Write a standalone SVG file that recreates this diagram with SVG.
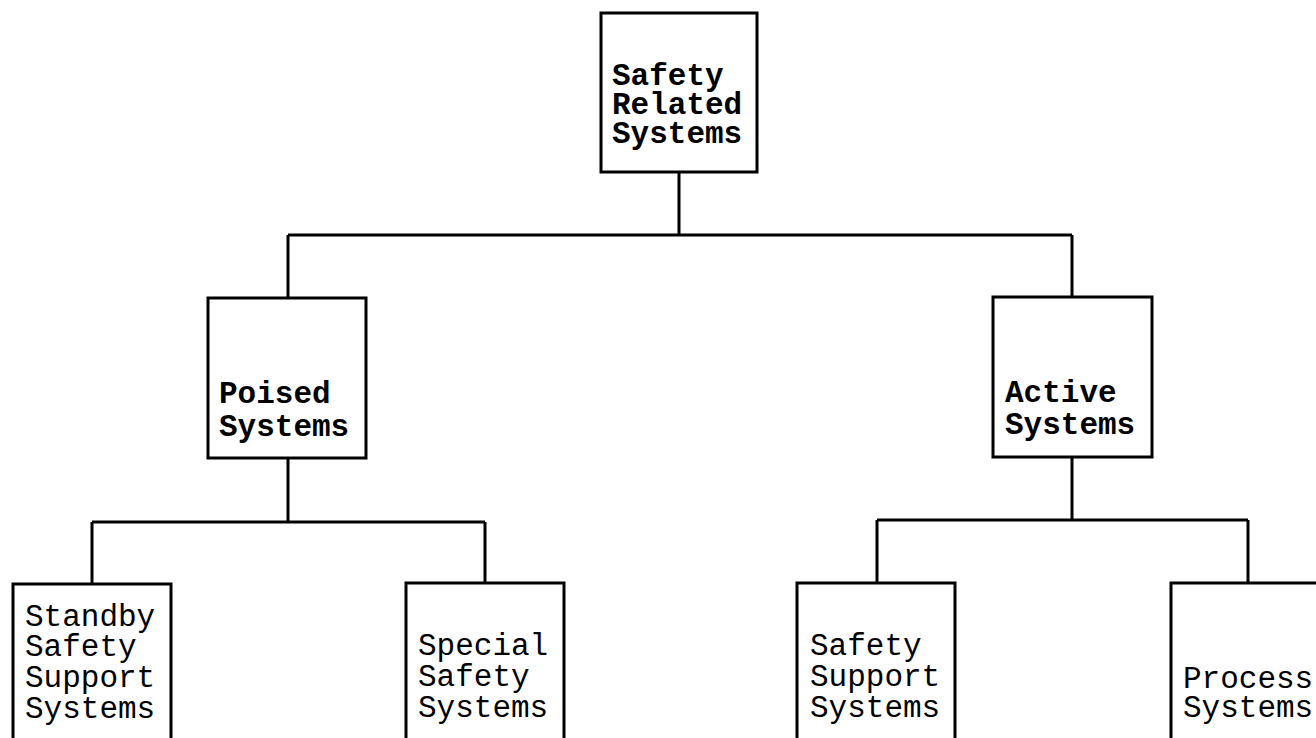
<svg xmlns="http://www.w3.org/2000/svg" width="1316" height="738" viewBox="0 0 1316 738">
<style>
.box{fill:#fff;stroke:#000;stroke-width:3}
.ln{fill:none;stroke:#000;stroke-width:3}
.tb{font-family:"Liberation Mono","Courier New",monospace;font-size:31px;font-weight:bold;fill:#000}
.tr{font-family:"Liberation Mono","Courier New",monospace;font-size:31px;fill:#000}
</style>
<rect width="1316" height="738" fill="#fff"/>
<g id="connectors">
<path class="ln" d="M679 172V235M288 235H1072M288 235V298M1072 235V297"/>
<path class="ln" d="M288 458V522M92 522H485M92 522V584M485 522V583"/>
<path class="ln" d="M1072 457V520M877 520H1248M877 520V583M1248 520V583"/>
</g>
<g id="n-safety-related">
<rect class="box" x="601" y="13" width="156" height="159"/>
<text class="tb" x="612" y="85">Safety</text>
<text class="tb" x="612" y="114">Related</text>
<text class="tb" x="612" y="143">Systems</text>
</g>
<g id="n-poised">
<rect class="box" x="208" y="298" width="158" height="160"/>
<text class="tb" x="219" y="403">Poised</text>
<text class="tb" x="219" y="436">Systems</text>
</g>
<g id="n-active">
<rect class="box" x="993" y="297" width="159" height="160"/>
<text class="tb" x="1005" y="402">Active</text>
<text class="tb" x="1005" y="434">Systems</text>
</g>
<g id="n-standby">
<rect class="box" x="13" y="584" width="158" height="180"/>
<text class="tr" x="25" y="626">Standby</text>
<text class="tr" x="25" y="656">Safety</text>
<text class="tr" x="25" y="687">Support</text>
<text class="tr" x="25" y="718">Systems</text>
</g>
<g id="n-special">
<rect class="box" x="406" y="583" width="158" height="180"/>
<text class="tr" x="418" y="655">Special</text>
<text class="tr" x="418" y="686">Safety</text>
<text class="tr" x="418" y="717">Systems</text>
</g>
<g id="n-safety-support">
<rect class="box" x="797" y="583" width="158" height="180"/>
<text class="tr" x="810" y="655">Safety</text>
<text class="tr" x="810" y="686">Support</text>
<text class="tr" x="810" y="717">Systems</text>
</g>
<g id="n-process">
<rect class="box" x="1171" y="583" width="170" height="180"/>
<text class="tr" x="1183" y="688">Process</text>
<text class="tr" x="1183" y="717">Systems</text>
</g>
</svg>
